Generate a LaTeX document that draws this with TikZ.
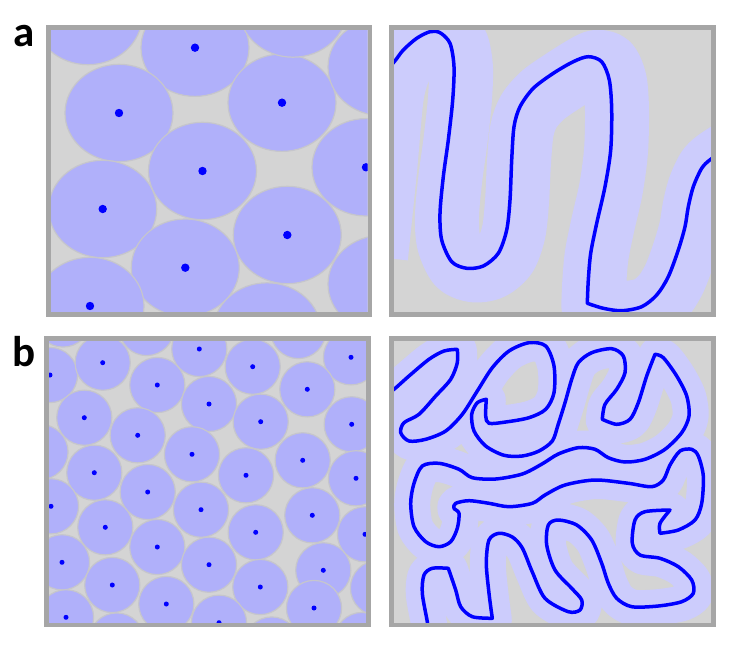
\documentclass[tikz,border=0pt]{standalone}
\usepackage{fontspec}
\newfontfamily\labfont{Carlito}
\definecolor{bg}{HTML}{D4D4D4}
\definecolor{framec}{HTML}{A6A6A6}
\definecolor{disk}{HTML}{B0B0FA}
\definecolor{diskedge}{HTML}{C6C6CC}
\definecolor{bandc}{HTML}{CCCCFC}
\definecolor{chain}{HTML}{0000FF}
\def\chainAR{plot[smooth,tension=0.5] coordinates {(384,72) (394.3,61.7) (403.3,50) (416.7,38.3) (430,31.7) (440,32.7) (450,43.3) (454,66.7) (452.7,100) (448.3,140) (443.3,176.7) (440,213.3) (441.7,240) (451.7,261.7) (466.7,268.3) (483.3,266) (498.3,253.3) (506.7,230) (510,200) (511.7,160) (514,126.7) (520,106.7) (533.3,88.3) (553.3,73.3) (573.3,61.7) (588.3,56.7) (601.7,61.7) (609.3,80) (611.7,110) (610.7,150) (605,186.7) (596.7,223.3) (590.7,253.3) (588.3,280) (587.3,303.3)}
 -- plot[smooth,tension=0.5] coordinates {(587.3,303.3) (603.3,308.3) (621.7,310.7) (641.7,306.7) (656.7,295) (668.3,276.7) (678.3,250) (685,226.7) (688.3,206.7) (693.3,186.7) (701.7,168.3) (710.7,159.3) (728,148)}}
\def\bandAR{plot[smooth,tension=0.5] coordinates {(376,257) (385,170) (392,95) (401.3,63.7) (410.3,52) (423.7,40.3) (437,33.7) (447,34.7) (457,45.3) (461,68.7) (459.7,102) (455.3,142) (450.3,178.7) (447,215.3) (448.7,242) (458.7,263.7) (473.7,270.3) (490.3,268) (505.3,255.3) (513.7,232) (517,202) (519,162) (522,130) (529,111) (543,95) (563,81) (582,69) (596,62) (608,65) (615,82) (617,111) (616,151) (611,188.7) (602.7,225.3) (596.7,255.3) (594.3,282) (593.3,305.3)}
 -- plot[smooth,tension=0.5] coordinates {(593.3,305.3) (609.3,310.3) (627.7,312.7) (647.7,308.7) (662.7,297) (674.3,278.7) (684.3,252) (691,228.7) (694.3,208.7) (699.3,188.7) (707.7,170.3) (716.7,161.3) (734,150)}}
\def\chainBR{plot[smooth,tension=0.5] coordinates {(384,396) (394,389.3) (409,376) (429,359.3) (444,351) (457.3,349.3)}
 -- plot[smooth,tension=0.5] coordinates {(457.3,349.3) (457.3,362.7) (450.7,379.3) (435.7,396) (419,414.3) (404,422.7) (400.7,432.7) (409,441) (425.7,439.3) (445.7,431) (462.3,414.3) (477.3,391) (492.3,367.7) (509,351) (529,342.7) (545.7,346) (554,366) (554,392.7) (545.7,409.3) (529,417.7) (505.7,422) (489,423.3) (485.7,416) (486.3,399.3)}
 -- plot[smooth,tension=0.5] coordinates {(486.3,399.3) (477.3,402.7) (471.7,414.3) (474,431) (485.7,446) (504,455.3) (522.3,456) (539,451) (552.3,441) (558,425) (565,402.7) (571.7,379.3) (578.3,362.7) (591.7,352.7) (611.7,348.7) (623.3,356) (625,372.7) (616.7,389.3) (605,404.3) (602.3,419.3)}
 -- plot[smooth,tension=0.5] coordinates {(602.3,419.3) (616.7,424.3) (630,419.3) (638.3,402.7) (646.7,376) (655,354.3)}
 -- plot[smooth,tension=0.5] coordinates {(655,354.3) (663.3,357.7) (676.7,376) (686.7,396) (689,416) (681.7,432.7) (665,449.3) (645,459.3) (625,462) (608.3,457.7) (595,449.3) (578.3,447.7) (558.3,454) (542,464) (522.3,474) (495.7,479) (472.3,477.7) (459,469.3) (439,463.3) (422.3,466) (414,483.3) (410.7,503.3) (414,526.7) (425.7,541.7) (439,546.7) (450.7,541.7) (457.3,528.3) (459,513.3) (454,508.3) (455.7,503.3) (469,500.7) (489,503.3) (509,506.7) (532.3,503.3) (545,495) (565,485) (595,480) (628.3,483.3) (651.7,486.7) (663.3,480) (670,465) (680,451) (691.7,449.3) (698.3,456) (703.3,476) (701.7,503.3) (695,520) (678.3,530) (660,533.3)}
 -- plot[smooth,tension=0.5] coordinates {(660,533.3) (660,523.3) (670,510)}
 -- plot[smooth,tension=0.5] coordinates {(670,510) (645,511.7) (635,520) (632.3,543.3) (640,555) (660,558.3) (678.3,566.7) (691.7,580) (693.3,593.3) (681.7,601.7) (658.3,606) (631.7,606.7) (616.7,598.3) (608.3,583.3) (601.7,563.3) (591.7,540) (576.7,525) (558.3,520) (548.3,525) (546.7,545) (555,570) (571.7,588.3) (581.7,600) (580,610) (568.3,611.7) (545,598.3) (532.3,572) (522.3,548) (512.3,537) (499,533.3) (489,540) (486.3,563.3) (489,593.3) (492.3,618.3)}
 -- plot[smooth,tension=0.5] coordinates {(492.3,618.3) (472.3,616.7) (460.7,606.7) (455.7,590) (448.3,568.3)}
 -- plot[smooth,tension=0.5] coordinates {(448.3,568.3) (432.3,568.3) (424,575) (422.3,593.3) (427.3,621.7) (429,635)}}
\begin{document}
\begin{tikzpicture}[x=1pt,y=-1pt,
  frameline/.style={draw=framec, line width=4.7pt},
  diskA/.style={fill=disk, draw=diskedge, line width=1.2pt},
  bandA/.style={draw=bandc, line width=64pt, line cap=butt, line join=round},
  bandB/.style={draw=bandc, line width=36pt, line cap=butt, line join=round},
  chainline/.style={draw=chain, line width=3.5pt, line join=round},
  lab/.style={anchor=base west, inner sep=0pt, font=\labfont\bfseries\fontsize{43}{43}\selectfont}]
\useasboundingbox (0,0) rectangle (738,652);
% ---------- panel a, left ----------
\fill[bg] (50.5,30) rectangle (367.5,312);
\begin{scope}
\clip (50.5,30) rectangle (367.5,312);
\foreach \px/\py in {195/47.7, 119/113, 282/102.7, 202.5/171, 366/167.3, 102.7/209, 287.3/235, 185.3/267.7, 90/306, 88/16, 293/8.5, 382/67, 382/284, 267/331.5}
  \path[diskA] (\px,\py) ellipse [x radius=54pt, y radius=48.7pt];
\foreach \px/\py in {195/47.7, 119/113, 282/102.7, 202.5/171, 366/167.3, 102.7/209, 287.3/235, 185.3/267.7, 90/306}
  \fill[chain] (\px,\py) circle [radius=4.2pt];
\end{scope}
\draw[frameline] (48.15,27.65) rectangle (369.85,314.35);
% ---------- panel a, right ----------
\fill[bg] (394,30) rectangle (711,312);
\begin{scope}
\clip (394,30) rectangle (711,312);
\draw[bandA] \bandAR;
\draw[chainline] \chainAR;
\end{scope}
\draw[frameline] (391.65,27.65) rectangle (713.35,314.35);
% ---------- panel b, left ----------
\fill[bg] (49,341) rectangle (366,622.5);
\begin{scope}
\clip (49,341) rectangle (366,622.5);
\foreach \px/\py in {50/375, 102.7/362.7, 199.3/349, 252.7/366.7, 351/357.3, 157.3/385, 209/404, 307.3/389.3, 84.3/417.7, 260.7/421.7, 351.7/424.3, 137.7/435.3, 192/454.3, 302.7/460.3, 94.3/472.7, 246/475.3, 356/478.3, 147.7/492, 51/506.3, 201/509.7, 312.3/515.3, 105.3/527.3, 255.7/532.3, 365/534.3, 157.3/547, 62/562.3, 209/564.7, 323.3/570.3, 112.3/585, 260.3/587, 166.3/604, 314/608, 66/617.3, 219/622.7, 63/319.5, 146.7/328, 298.3/331, 40.5/452, 116.7/640.5, 271.7/644.5, 362/640, 378/588}
  \path[diskA] (\px,\py) circle [radius=27.6pt];
\foreach \px/\py in {50/375, 102.7/362.7, 199.3/349, 252.7/366.7, 351/357.3, 157.3/385, 209/404, 307.3/389.3, 84.3/417.7, 260.7/421.7, 351.7/424.3, 137.7/435.3, 192/454.3, 302.7/460.3, 94.3/472.7, 246/475.3, 356/478.3, 147.7/492, 51/506.3, 201/509.7, 312.3/515.3, 105.3/527.3, 255.7/532.3, 365/534.3, 157.3/547, 62/562.3, 209/564.7, 323.3/570.3, 112.3/585, 260.3/587, 166.3/604, 314/608, 66/617.3, 219/622.7}
  \fill[chain] (\px,\py) circle [radius=2.5pt];
\end{scope}
\draw[frameline] (46.65,338.65) rectangle (368.35,624.85);
% ---------- panel b, right ----------
\fill[bg] (394,341) rectangle (711,622.5);
\begin{scope}
\clip (394,341) rectangle (711,622.5);
\begin{scope}[shift={(1.5,1)}]
\draw[bandB] \chainBR;
\end{scope}
\draw[chainline] \chainBR;
\end{scope}
\draw[frameline] (391.65,338.65) rectangle (713.35,624.85);
% ---------- labels ----------
\node[lab] (la) at (13,46.5) {a};
\node[lab] (lb) at (12.5,366) {b};
\end{tikzpicture}
\end{document}
